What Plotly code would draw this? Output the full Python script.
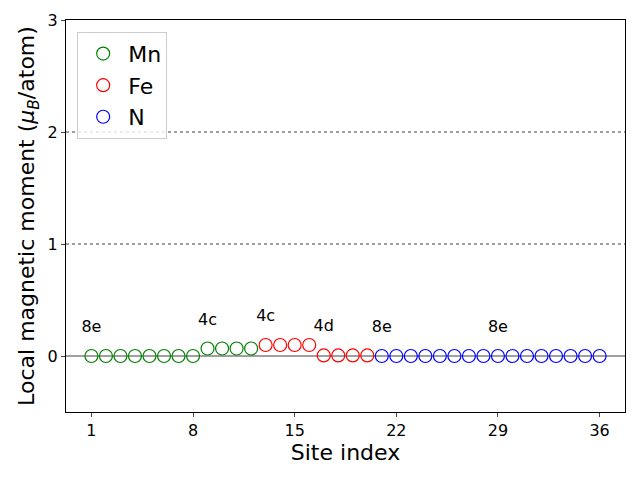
import plotly.graph_objects as go

mn_sites = list(range(1, 13))
mn_vals = [0, 0, 0, 0, 0, 0, 0, 0, 0.067, 0.067, 0.067, 0.067]
fe_sites = list(range(13, 21))
fe_vals = [0.098, 0.098, 0.098, 0.098, 0.005, 0.005, 0.005, 0.005]
n_sites = list(range(21, 37))
n_vals = [0] * 16

label_sites = [1, 9, 13, 17, 21, 29]
label_vals = [0, 0.067, 0.098, 0.005, 0, 0]
label_text = ["8e", "4c", "4c", "4d", "8e", "8e"]
xticks = [1, 8, 15, 22, 29, 36]

fig = go.Figure()
fig.add_hline(y=0, line=dict(color="gray", width=1.5), layer="below")
for yv in [1, 2]:
    fig.add_hline(y=yv, line=dict(color="gray", width=1.5, dash="dot"), layer="below")

for name, xs, ys, col in [("Mn", mn_sites, mn_vals, "green"),
                          ("Fe", fe_sites, fe_vals, "red"),
                          ("N", n_sites, n_vals, "blue")]:
    fig.add_trace(go.Scatter(x=xs, y=ys, mode="markers", name=name,
                             marker=dict(symbol="circle-open", size=13, color=col,
                                         line=dict(width=1.2, color=col))))

fig.add_trace(go.Scatter(x=label_sites, y=[v + 0.25 for v in label_vals], mode="text",
                         text=label_text, textfont=dict(size=16, color="black"),
                         showlegend=False, hoverinfo="skip"))

fig.update_layout(
    width=640, height=480,
    margin=dict(l=66, r=15, t=20, b=68),
    plot_bgcolor="white", paper_bgcolor="white",
    font=dict(family="DejaVu Sans", color="black"),
    showlegend=True,
    legend=dict(x=0.02, y=0.97, xanchor="left", yanchor="top",
                bgcolor="rgba(255,255,255,0.8)", bordercolor="#cccccc", borderwidth=1,
                font=dict(size=22), itemwidth=40, tracegroupgap=2),
)
fig.update_xaxes(range=[-0.75, 37.75], tickvals=xticks, ticks="outside", ticklen=4,
                 showline=True, linecolor="black", mirror=True, showgrid=False, zeroline=False,
                 tickfont=dict(size=16),
                 title=dict(text="Site index", font=dict(size=22), standoff=4))
fig.update_yaxes(range=[-0.5, 3], tickvals=[0, 1, 2, 3], ticks="outside", ticklen=4,
                 showline=True, linecolor="black", mirror=True, showgrid=False, zeroline=False,
                 tickfont=dict(size=16),
                 title=dict(text="Local magnetic moment (<i>μ</i><sub><i>B</i></sub>/atom)",
                            font=dict(size=22), standoff=6))

fig.write_html("out.html")
